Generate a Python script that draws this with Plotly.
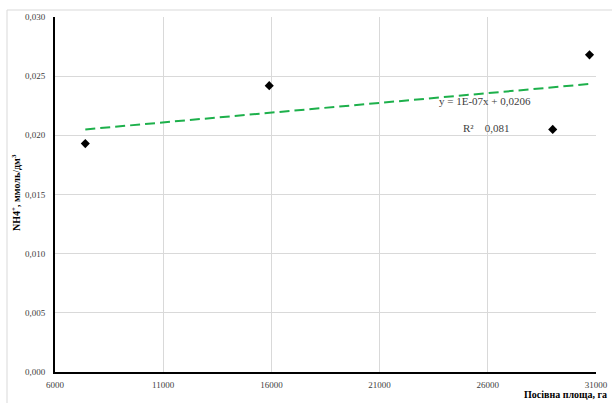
import numpy as np
import plotly.graph_objects as go

# Data
area = [7400, 15900, 29000, 30700]          # Посівна площа, га
nh4 = [0.0193, 0.0242, 0.0205, 0.0268]      # NH4+, ммоль/дм3

x_ticks = [6000, 11000, 16000, 21000, 26000, 31000]
y_ticks = [0.000, 0.005, 0.010, 0.015, 0.020, 0.025, 0.030]
y_tick_text = ["0,000", "0,005", "0,010", "0,015", "0,020", "0,025", "0,030"]

eq_text = "y = 1E-07x + 0,0206"
r2_text = "R²    0,081"

# Linear trend line fitted on the data
k, b = np.polyfit(area, nh4, 1)
trend_x = [min(area), max(area)]
trend_y = [k * v + b for v in trend_x]

FONT = "Liberation Serif"
L, R, T, B = 55, 16, 17, 31
W, H = 612, 403
PW, PH = W - L - R, H - T - B


def px(xp):
    return (xp - L) / PW


def py(yp):
    return (H - B - yp) / PH


fig = go.Figure()
fig.add_trace(go.Scatter(
    x=trend_x, y=trend_y, mode="lines",
    line=dict(color="#1db04b", width=2, dash="10px,5px"),
    hoverinfo="skip", showlegend=False,
))
fig.add_trace(go.Scatter(
    x=area, y=nh4, mode="markers",
    marker=dict(symbol="diamond", size=7, color="black"),
    showlegend=False,
))

fig.update_layout(
    width=W, height=H, autosize=False,
    margin=dict(l=L, r=R, t=T, b=B),
    paper_bgcolor="white", plot_bgcolor="white",
    font=dict(family=FONT, size=10, color="#404040"),
    xaxis=dict(
        range=[6000, 31000], tickvals=x_ticks, ticktext=[str(v) for v in x_ticks],
        showgrid=True, gridcolor="#d9d9d9", gridwidth=1,
        showline=True, linecolor="black", linewidth=2,
        zeroline=False, ticks="", automargin=False, ticklabelstandoff=3,
        tickfont=dict(family=FONT, size=9, color="#404040"),
    ),
    yaxis=dict(
        range=[0, 0.030], tickvals=y_ticks, ticktext=y_tick_text,
        showgrid=True, gridcolor="#d9d9d9", gridwidth=1,
        showline=True, linecolor="black", linewidth=2,
        zeroline=False, ticks="", automargin=False, ticklabelstandoff=6,
        tickfont=dict(family=FONT, size=9, color="#404040"),
    ),
)

fig.add_annotation(x=px(485), y=py(101), xref="paper", yref="paper", text=eq_text,
                   xanchor="center", yanchor="middle",
                   showarrow=False, font=dict(family=FONT, size=11, color="#404040"))
fig.add_annotation(x=px(486), y=py(128), xref="paper", yref="paper", text=r2_text,
                   xanchor="center", yanchor="middle",
                   showarrow=False, font=dict(family=FONT, size=11, color="#404040"))
fig.add_annotation(x=px(609), y=py(395), xref="paper", yref="paper",
                   text="<b>Посівна площа, га</b>", xanchor="right", yanchor="middle",
                   showarrow=False, font=dict(family=FONT, size=10, color="black"))
fig.add_annotation(x=px(16), y=py(193), xref="paper", yref="paper",
                   text="<b>NH4<sup>+</sup>, ммоль/дм<sup>3</sup></b>", textangle=-90,
                   xanchor="center", yanchor="middle",
                   showarrow=False, font=dict(family=FONT, size=10, color="black"))

# outer chart frame
fig.add_shape(type="line", xref="paper", yref="paper", x0=px(7), x1=px(640),
              y0=py(10), y1=py(10), line=dict(color="#d9d9d9", width=1))
fig.add_shape(type="line", xref="paper", yref="paper", x0=px(7), x1=px(7),
              y0=py(10), y1=py(420), line=dict(color="#d9d9d9", width=1))

fig.write_html(
    "out.html",
    config={"responsive": False, "displayModeBar": False},
    post_script="document.body.style.margin='0';document.body.style.overflow='hidden';",
)
